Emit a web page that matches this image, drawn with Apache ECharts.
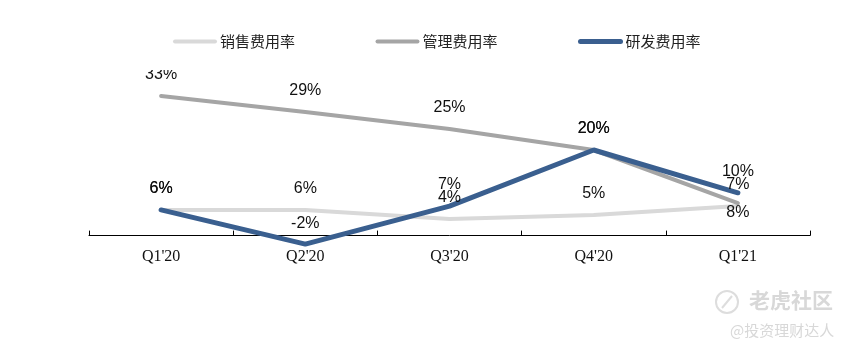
<!DOCTYPE html>
<html>
<head>
<meta charset="utf-8">
<style>
  html, body { margin: 0; padding: 0; background: #fff; }
  #chart { width: 849px; height: 351px; }
</style>
<script src="https://cdn.jsdelivr.net/npm/echarts@6/dist/echarts.min.js"></script>
</head>
<body>
<div id="chart"></div>
<script>
const quarters = ["Q1'20", "Q2'20", "Q3'20", "Q4'20", "Q1'21"];
const salesRate = [6, 6, 3.9, 4.8, 6.9];
const adminRate = [32.6, 28.9, 24.9, 20, 7.6];
const rdRate = [6, -2, 6.9, 20, 10];

const valueLabel = {
  show: true,
  position: 'top',
  distance: 13,
  color: '#111',
  fontSize: 16,
  fontFamily: 'Liberation Sans',
  formatter: p => Math.round(p.value) + '%'
};

// the last grey label sits under its point in the original
const adminData = adminRate.map((v, i) =>
  i === adminRate.length - 1 ? { value: v, label: { position: 'bottom', distance: 2 } } : v
);

const makeSeries = (name, data, color, width) => ({
  name,
  type: 'line',
  data,
  symbol: 'circle',
  symbolSize: 0,
  showAllSymbol: true,
  lineStyle: { color, width, cap: 'round' },
  itemStyle: { color },
  label: valueLabel
});

const myChart = echarts.init(document.getElementById('chart'));
myChart.setOption({
  backgroundColor: '#fff',
  animation: false,
  legend: {
    top: 29,
    left: 168,
    itemWidth: 40,
    itemHeight: 14,
    itemGap: 80.5,
    itemStyle: { opacity: 0 },
    lineStyle: { width: 4, cap: 'round' },
    data: [
      { name: '销售费用率' },
      { name: '管理费用率' },
      { name: '研发费用率', lineStyle: { width: 5, cap: 'round' } }
    ],
    textStyle: {
      fontFamily: 'Noto Sans CJK SC',
      fontSize: 15,
      color: '#222'
    }
  },
  grid: { left: 89, right: 39, top: 64.4, height: 192.6 },
  xAxis: {
    type: 'category',
    data: quarters,
    axisLine: { onZero: true, lineStyle: { color: '#000', width: 1 } },
    axisTick: { show: true, inside: true, length: 5, lineStyle: { color: '#000' } },
    axisLabel: {
      color: '#111',
      fontSize: 16,
      fontFamily: 'Liberation Serif',
      margin: -8
    }
  },
  yAxis: { type: 'value', min: -5, max: 40, show: false },
  series: [
    makeSeries('销售费用率', salesRate, '#D9D9D9', 4),
    makeSeries('管理费用率', adminData, '#A5A5A5', 4),
    makeSeries('研发费用率', rdRate, '#3A5F8F', 5)
  ],
  graphic: [
    // top of the 33% label is cut off in the original
    { type: 'rect', z: 100, shape: { x: 130, y: 52, width: 70, height: 18 }, style: { fill: '#fff' } },
    { type: 'circle', z: 100, shape: { cx: 727, cy: 302, r: 11 }, style: { fill: 'none', stroke: '#ddd', lineWidth: 2 } },
    { type: 'line', z: 100, shape: { x1: 722, y1: 308, x2: 732, y2: 296 }, style: { stroke: '#ddd', lineWidth: 2 } },
    { type: 'text', z: 100, left: 749, top: 290, style: { text: '老虎社区', fill: '#d8d8d8', fontSize: 21, fontWeight: 'bold', fontFamily: 'Noto Sans CJK SC' } },
    { type: 'text', z: 100, left: 730, top: 323, style: { text: '@投资理财达人', fill: '#d8d8d8', fontSize: 15, fontFamily: 'Noto Sans CJK SC' } }
  ]
});
window.addEventListener('resize', () => myChart.resize());
</script>
</body>
</html>
